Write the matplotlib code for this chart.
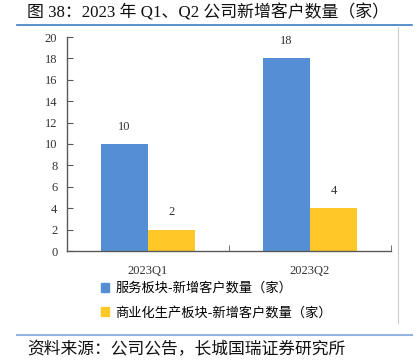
import matplotlib
matplotlib.use("Agg")
import matplotlib.pyplot as plt
from matplotlib.lines import Line2D
from matplotlib.patches import Patch

quarters = ["2023Q1", "2023Q2"]
service_new = [10, 18]
commercial_new = [2, 4]
series_names = ["服务板块-新增客户数量（家）", "商业化生产板块-新增客户数量（家）"]

blue = "#558ed5"
yellow = "#ffc728"
serif_cjk = ["Liberation Serif", "Noto Sans CJK SC"]
sans_cjk = ["Noto Sans CJK SC", "DejaVu Sans"]
plt.rcParams["font.family"] = serif_cjk

fig = plt.figure(figsize=(4.18, 3.63), dpi=100)
ax = fig.add_axes([67 / 418, 1 - 251 / 363, 324 / 418, 214 / 363])

x = list(range(len(quarters)))
w = 0.29
b1 = ax.bar([i - w / 2 for i in x], service_new, w, color=blue)
b2 = ax.bar([i + w / 2 for i in x], commercial_new, w, color=yellow)
for bars in (b1, b2):
    for bar in bars:
        ax.text(bar.get_x() + bar.get_width() / 2, bar.get_height() + 1.6,
                f"{bar.get_height():.0f}", ha="center", va="center",
                fontsize=9, color="#333333")

ax.set_xlim(-0.5, 1.5)
ax.set_ylim(0, 20)
ax.set_yticks(range(0, 21, 2))
ax.set_xticks(x)
ax.set_xticklabels(quarters)
ax.set_xticks([0.5, 1.5], minor=True)
for s in ("top", "right"):
    ax.spines[s].set_visible(False)
for s in ("left", "bottom"):
    ax.spines[s].set_color("#595959")
    ax.spines[s].set_linewidth(1)
ax.tick_params(axis="y", direction="in", length=4, color="#595959",
               labelsize=9, labelcolor="#333333", pad=7)
ax.tick_params(axis="x", which="major", length=0, labelsize=9,
               labelcolor="#333333", pad=10)
ax.tick_params(axis="x", which="minor", direction="in", length=4, color="#595959")

handles = [Patch(color=blue), Patch(color=yellow)]
fig.legend(handles, series_names, loc="upper left",
           bbox_to_anchor=(101 / 418, 1 - 282 / 363), frameon=False,
           prop={"family": sans_cjk, "size": 9.5}, handlelength=0.6,
           handleheight=0.6, handletextpad=0.5, labelspacing=0.85,
           borderaxespad=0, borderpad=0)

fig.text(27 / 418, 1 - 13 / 363, "图 38：2023 年 Q1、Q2 公司新增客户数量（家）",
         ha="left", va="center", fontsize=12.2, color="#111111")
fig.text(27 / 418, 1 - 350 / 363, "资料来源：公司公告，长城国瑞证券研究所",
         ha="left", va="center", fontsize=12.1, family=sans_cjk, color="#111111")

fig.add_artist(Line2D([17 / 418, 412 / 418], [1 - 25 / 363] * 2,
                      transform=fig.transFigure, color="#3b7fc4", lw=1.2))
fig.add_artist(Line2D([17 / 418, 412 / 418], [1 - 335 / 363] * 2,
                      transform=fig.transFigure, color="#8fb5e0", lw=1.5))
fig.add_artist(Line2D([398 / 418] * 2, [1 - 27 / 363, 1 - 323 / 363],
                      transform=fig.transFigure, color="#cccccc", lw=0.8))

fig.savefig("out.png", dpi=100)
